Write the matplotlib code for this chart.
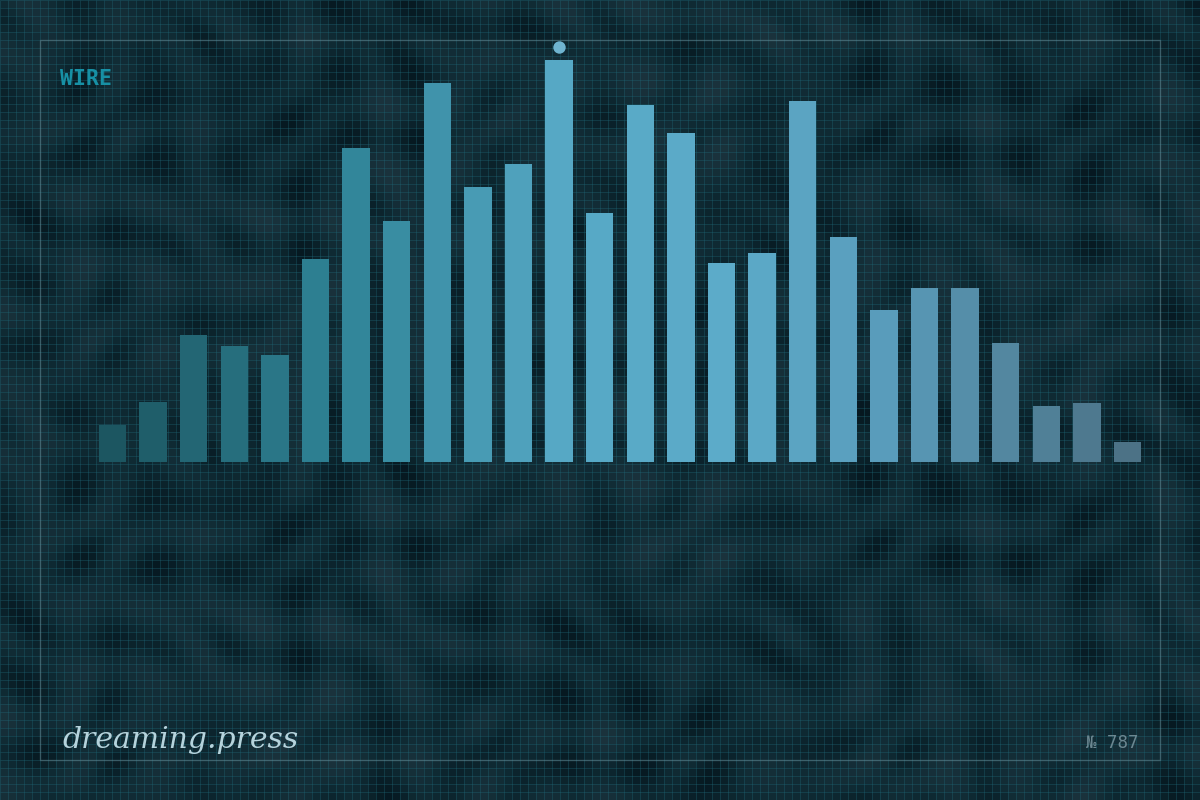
import numpy as np
import matplotlib
matplotlib.use("Agg")
import matplotlib.pyplot as plt
from matplotlib.colors import LinearSegmentedColormap
from matplotlib.patches import Rectangle
from matplotlib.collections import LineCollection

# ---- data ----
categories = list(range(1, 27))
values = [37, 60, 127, 116, 107, 203, 314, 241, 379, 275, 298, 402, 249,
          357, 329, 199, 209, 361, 225, 152, 174, 174, 119, 56, 59, 20]
title_text = "WIRE"
footer_left = "dreaming.press"
footer_right = "№ 787"

W, H = 1200, 800
fig = plt.figure(figsize=(12, 8), dpi=100)

# ---- background texture (decorative) ----
bg = fig.add_axes([0, 0, 1, 1])
bg.set_xlim(0, W)
bg.set_ylim(0, H)
bg.axis("off")
ny, nx = 100, 150
yy, xx = np.mgrid[0:ny, 0:nx]
tex = (np.sin(xx / 3.1 + np.cos(yy / 4.1) * 2.0) * np.cos(yy / 2.7 + np.sin(xx / 3.9) * 1.7)
       + 0.6 * np.sin((xx + yy) / 2.3) * np.cos((xx - yy) / 3.1))
tex = (tex - tex.min()) / (tex.max() - tex.min())
bg_cmap = LinearSegmentedColormap.from_list("bg", ["#061820", "#0f2a33", "#1b333d"])
bg.imshow(tex, cmap=bg_cmap, extent=(0, W, 0, H), origin="lower",
          interpolation="nearest", aspect="auto", vmin=0, vmax=1, zorder=0)
segs = [[(x, 0), (x, H)] for x in np.arange(0, W + 1, 8)] + \
       [[(0, y), (W, y)] for y in np.arange(0, H + 1, 8)]
bg.add_collection(LineCollection(segs, colors="#1f6a7a", linewidths=0.6, alpha=0.4, zorder=1))
bg.add_patch(Rectangle((40, 40), 1120, 720, fill=False, edgecolor="#8aa4ad",
                       linewidth=1.0, alpha=0.35, zorder=2))

# ---- bars ----
left_px, right_px = 92.2, 1147.8
bottom_px, top_px = 338, 760
ax = fig.add_axes([left_px / W, bottom_px / H, (right_px - left_px) / W, (top_px - bottom_px) / H])
ax.set_facecolor("none")
ax.patch.set_alpha(0)
x = np.arange(len(values))
bar_cmap = LinearSegmentedColormap.from_list(
    "bars", [(0.0, "#1c5661"), (0.22, "#2f8396"), (0.44, "#56a8c5"),
             (0.6, "#5cabc9"), (0.75, "#5a9ebd"), (1.0, "#4c7286")])
colors = [bar_cmap(i / (len(values) - 1)) for i in x]
ax.bar(x, values, width=0.67, color=colors, zorder=3)
imax = int(np.argmax(values))
ax.scatter([x[imax]], [415], s=80, color="#6fb4d0", zorder=4, linewidths=0)
ax.set_xlim(-0.5, len(values) - 0.5)
ax.set_ylim(0, top_px - bottom_px)
ax.axis("off")

# ---- text ----
fig.text(60 / W, (H - 85) / H, title_text, fontfamily="DejaVu Sans Mono", fontweight="bold",
         fontsize=15.5, color="#1790a5", va="baseline", ha="left")
fig.text(62 / W, (H - 748) / H, footer_left, fontfamily="DejaVu Serif", fontstyle="italic",
         fontsize=21.5, color="#b5d3dc", va="baseline", ha="left")
fig.text(1139 / W, (H - 748) / H, footer_right, fontfamily="DejaVu Sans Mono",
         fontsize=12.5, color="#6c8791", va="baseline", ha="right")

fig.savefig("out.png", dpi=100)
